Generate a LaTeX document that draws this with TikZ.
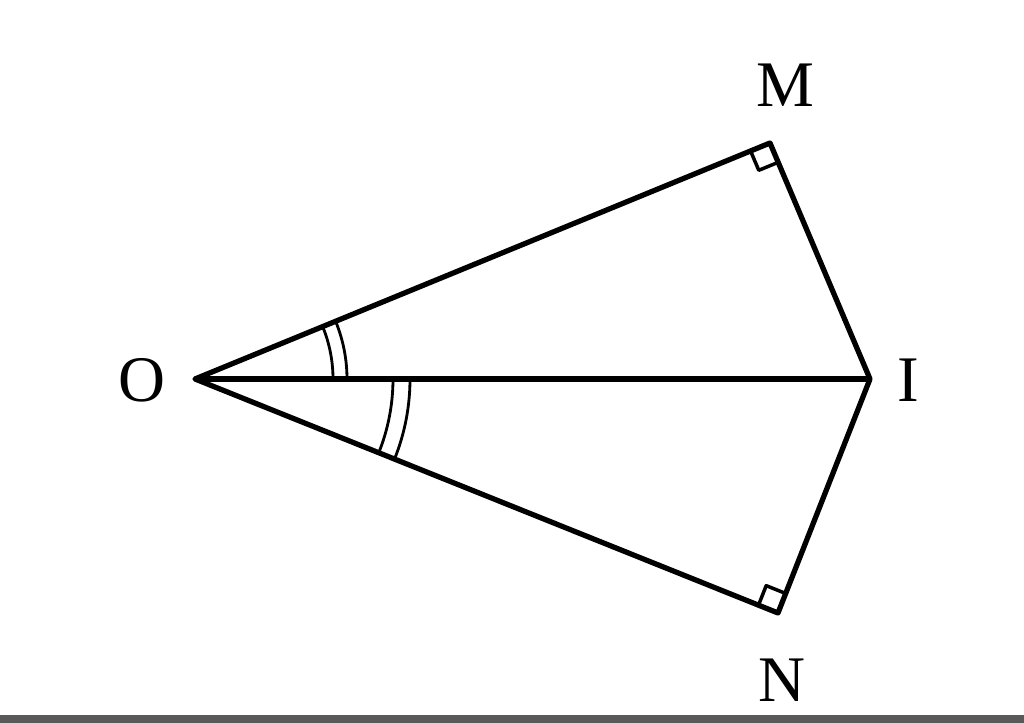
\documentclass[tikz,border=0pt]{standalone}
\usepackage{fontspec}
\setmainfont{Liberation Serif}
\usepackage{tikz}
\usetikzlibrary{calc, angles}

\begin{document}
\begin{tikzpicture}[line join=round,
  side/.style={line width=3pt},
  anglemark/.style={draw, line width=1.6pt},
  lbl/.style={font=\fontsize{37}{40}\selectfont}]

  \useasboundingbox (0,0) rectangle (20.48,14.46);
  \fill[black!65] (0,0) rectangle (20.48,0.16);

  \coordinate (O) at (3.9,6.88);
  \coordinate (I) at (17.4,6.88);
  \coordinate (M) at (15.4,11.6);
  \coordinate (N) at (15.56,2.2);

  \draw[side] (O) -- (M) -- (I) -- (N) -- cycle;
  \draw[side] (O) -- (I);

  % equal angles
  \pic[anglemark, angle radius=2.76cm] {angle=I--O--M};
  \pic[anglemark, angle radius=3.04cm] {angle=I--O--M};
  \pic[anglemark, angle radius=3.96cm] {angle=N--O--I};
  \pic[anglemark, angle radius=4.3cm] {angle=N--O--I};

  % right angles
  \pic[anglemark, line width=2pt, angle radius=0.42cm] {right angle=O--M--I};
  \pic[anglemark, line width=2pt, angle radius=0.42cm] {right angle=I--N--O};

  \node[lbl] (lM) at (15.7,12.76) {M};
  \node[lbl] (lO) at (2.84,6.86) {O};
  \node[lbl] (lI) at (18.16,6.86) {I};
  \node[lbl] (lN) at (15.64,0.86) {N};

\end{tikzpicture}
\end{document}
